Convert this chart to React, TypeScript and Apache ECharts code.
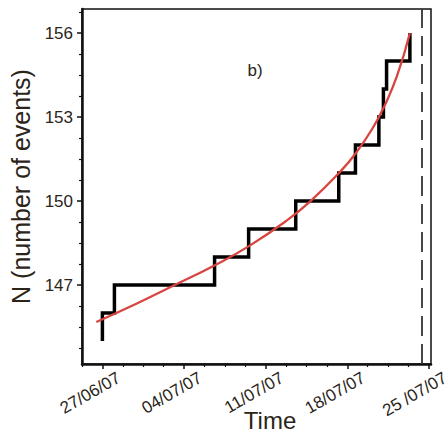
import React, { useEffect, useRef } from "react";
import * as echarts from "echarts";

// x values are days counted from 27/06/07
const tickDays = [0, 7, 14, 21, 28];
const tickLabels = ["27/06/07", "04/07/07", "11/07/07", "18/07/07", "25 /07/07"];
const xMinorDays = [-1.75, 1.75, 3.5, 5.25, 8.75, 10.5, 12.25, 15.75, 17.5, 19.25, 22.75, 24.5, 26.25];

const yMajor = [147, 150, 153, 156];
const yMinor = [144.75, 145.5, 146.25, 147.75, 148.5, 149.25, 150.75, 151.5, 152.25, 153.75, 154.5, 155.25, 156.75];

// cumulative event counts (step curve)
const stepDays = [0, 0, 1.03, 9.62, 12.54, 16.58, 20.27, 21.7, 23.71, 24.1, 24.37, 26.37];
const stepCounts = [145, 146, 147, 148, 149, 150, 151, 152, 153, 154, 155, 156];

// fitted curve
const fitDays = [-0.52, 3.0, 6.2, 9.6, 12.6, 15.8, 17.8, 20.4, 21.8, 23.2, 24.1, 25.25, 26.37];
const fitCounts = [145.68, 146.35, 147.0, 147.7, 148.4, 149.3, 149.98, 151.05, 151.75, 152.62, 153.32, 154.45, 156.0];

const failureDay = 27.4;

const FONT = "Liberation Sans";
const TXT = "#2b2418";

export default function App() {
  const ref = useRef<HTMLDivElement>(null);
  useEffect(() => {
    if (!ref.current) return;
    const chart = echarts.init(ref.current, null, { renderer: "svg" });
    const xMin = -1.75;
    const xMax = 28.18;
    const yMin = 144.18;
    const yMax = 156.86;
    chart.setOption({
      animation: false,
      grid: {
        left: 82,
        right: 17,
        top: 9,
        bottom: 68,
        show: true,
        borderColor: "#111",
        borderWidth: 1.5,
        outerBoundsMode: "none",
      },
      xAxis: [
        {
          type: "value",
          min: xMin,
          max: xMax,
          position: "bottom",
          axisLine: { show: true, onZero: false, lineStyle: { color: "#111", width: 2.5 } },
          axisTick: { show: true, customValues: tickDays, length: 5, lineStyle: { color: "#111", width: 1.5 } },
          axisLabel: {
            show: true,
            customValues: tickDays,
            rotate: 30,
            margin: 22,
            padding: [0, -19, 0, 0],
            fontFamily: FONT,
            fontSize: 17,
            color: TXT,
            formatter: (v: number) => {
              const i = tickDays.indexOf(Math.round(v * 100) / 100);
              return i >= 0 ? tickLabels[i] : "";
            },
          },
          splitLine: { show: false },
        },
        {
          type: "value",
          min: xMin,
          max: xMax,
          position: "bottom",
          axisLine: { show: false, onZero: false },
          axisTick: { show: true, customValues: xMinorDays, length: 3, lineStyle: { color: "#111", width: 1.2 } },
          axisLabel: { show: false },
          splitLine: { show: false },
        },
      ],
      yAxis: [
        {
          type: "value",
          min: yMin,
          max: yMax,
          position: "left",
          name: "N (number of events)",
          nameLocation: "middle",
          nameGap: 35,
          nameTextStyle: { fontFamily: FONT, fontSize: 25, color: TXT },
          axisLine: { show: true, onZero: false, lineStyle: { color: "#111", width: 2.5 } },
          axisTick: { show: true, customValues: yMajor, length: 5, lineStyle: { color: "#111", width: 1.5 } },
          axisLabel: {
            show: true,
            customValues: yMajor,
            margin: 9,
            fontFamily: FONT,
            fontSize: 17,
            color: TXT,
            formatter: (v: number) => String(Math.round(v)),
          },
          splitLine: { show: false },
        },
        {
          type: "value",
          min: yMin,
          max: yMax,
          position: "left",
          axisLine: { show: false, onZero: false },
          axisTick: { show: true, customValues: yMinor, length: 3, lineStyle: { color: "#111", width: 1.2 } },
          axisLabel: { show: false },
          splitLine: { show: false },
        },
      ],
      graphic: [
        {
          type: "text",
          x: 270,
          y: 420,
          style: {
            text: "Time",
            fontFamily: FONT,
            fontSize: 24,
            fill: TXT,
            textAlign: "center",
            textVerticalAlign: "middle",
          },
        },
        {
          type: "text",
          x: 255,
          y: 70,
          style: {
            text: "b)",
            fontFamily: FONT,
            fontSize: 17,
            fill: TXT,
            textAlign: "center",
            textVerticalAlign: "middle",
          },
        },
      ],
      series: [
        {
          type: "line",
          xAxisIndex: 0,
          yAxisIndex: 0,
          step: "end",
          data: stepDays.map((d, i) => [d, stepCounts[i]]),
          showSymbol: false,
          symbol: "none",
          lineStyle: { color: "#000", width: 3.5, join: "miter" },
          markLine: {
            silent: true,
            symbol: "none",
            label: { show: false },
            lineStyle: { color: "#333", width: 1.8, type: [20, 8] },
            data: [{ xAxis: failureDay }],
          },
          z: 2,
        },
        {
          type: "line",
          xAxisIndex: 0,
          yAxisIndex: 0,
          smooth: 0.5,
          data: fitDays.map((d, i) => [d, fitCounts[i]]),
          showSymbol: false,
          symbol: "none",
          lineStyle: { color: "#d8443e", width: 2.3 },
          z: 3,
        },
      ],
    });
    return () => chart.dispose();
  }, []);
  return (
    <div
      ref={ref}
      style={{ position: "absolute", left: 0, top: 0, width: 448, height: 432 }}
    />
  );
}
